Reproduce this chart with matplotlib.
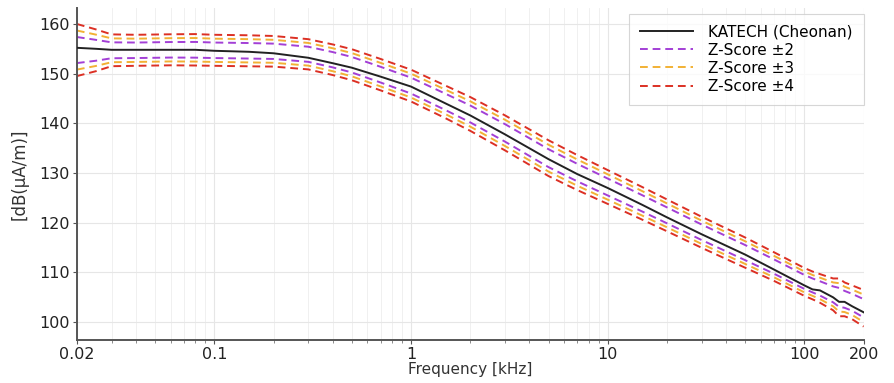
import numpy as np
import matplotlib
matplotlib.use("Agg")
import matplotlib.pyplot as plt
import matplotlib.ticker as ticker

# Frequency points [kHz]
freq = [0.02, 0.025, 0.03, 0.04, 0.06, 0.08, 0.1, 0.15, 0.2, 0.3, 0.4, 0.5, 0.7,
        1, 1.5, 2, 3, 5, 7, 10, 15, 20, 30, 50, 70, 100, 110, 120, 140, 150,
        160, 175, 200]

# KATECH (Cheonan) measurement [dB(uA/m)]
katech = [155.2, 155.0, 154.8, 154.8, 154.8, 154.8, 154.6, 154.4, 154.1, 153.2,
          152.1, 151.2, 149.4, 147.4, 144.0, 141.6, 137.8, 132.8, 129.8, 127.0,
          123.6, 121.1, 117.7, 113.6, 110.6, 107.4, 106.6, 106.4, 105.0, 104.1,
          104.1, 103.2, 102.0]

# mean and std of the reference population (Z-Score bands)
z_mean = [154.75, 154.7, 154.7, 154.7, 154.8, 154.8, 154.7, 154.6, 154.5, 153.9,
          152.8, 151.8, 149.8, 147.6, 144.3, 141.9, 138.1, 133.0, 130.1, 127.2,
          123.9, 121.5, 118.1, 114.0, 111.2, 108.1, 107.4, 106.8, 105.6, 105.0,
          104.6, 104.0, 102.8]
z_std = [1.31, 1.05, 0.80, 0.78, 0.78, 0.79, 0.78, 0.78, 0.77, 0.76, 0.77, 0.78,
         0.79, 0.80, 0.82, 0.85, 0.88, 0.90, 0.88, 0.85, 0.82, 0.80, 0.78, 0.76,
         0.72, 0.70, 0.70, 0.72, 0.80, 0.95, 0.85, 0.85, 0.92]

z_levels = [2, 3, 4]
z_colors = ['#a33fd6', '#f2b134', '#dc3024']

x_ticks = [0.02, 0.1, 1, 10, 100, 200]
x_ticklabels = ['0.02', '0.1', '1', '10', '100', '200']
y_ticks = [100, 110, 120, 130, 140, 150, 160]

f = np.array(freq)
m = np.array(z_mean)
s = np.array(z_std)

fig, ax = plt.subplots(figsize=(8.94, 3.83), dpi=100)
fig.subplots_adjust(left=0.086, right=0.966, bottom=0.112, top=0.979)

ax.plot(f, katech, color='#222222', lw=1.4, label='KATECH (Cheonan)', zorder=5)
for k, c in zip(z_levels, z_colors):
    ax.plot(f, m + k * s, color=c, lw=1.4, ls=(0, (4, 2.5)), label='Z-Score ±%d' % k)
    ax.plot(f, m - k * s, color=c, lw=1.4, ls=(0, (4, 2.5)))

ax.set_xscale('log')
ax.set_xlim(0.02, 200)
ax.set_ylim(96.4, 163.2)
ax.set_xticks(x_ticks)
ax.set_xticklabels(x_ticklabels)
ax.xaxis.set_minor_locator(ticker.LogLocator(base=10, subs=np.arange(2, 10)))
ax.xaxis.set_minor_formatter(ticker.NullFormatter())
ax.set_yticks(y_ticks)

# Сетка и оси
ax.grid(which='major', axis='both', color='#e6e6e6', lw=0.8)
ax.grid(which='minor', axis='x', color='#eeeeee', lw=0.6)
ax.set_axisbelow(True)
ax.spines['top'].set_visible(False)
ax.spines['right'].set_visible(False)
for side in ['left', 'bottom']:
    ax.spines[side].set_color('#555555')
    ax.spines[side].set_linewidth(1.4)
ax.tick_params(axis='both', which='major', labelsize=11.5, colors='#555555',
               labelcolor='#222222', length=3, pad=2)
ax.tick_params(axis='x', which='minor', length=2, colors='#777777')

ax.set_xlabel('Frequency [kHz]', fontsize=11, color='#333333', labelpad=0)
ax.set_ylabel('[dB(μA/m)]', fontsize=12, color='#333333', labelpad=8)

leg = ax.legend(loc='upper right', fontsize=11, frameon=True, fancybox=False,
                edgecolor='#cccccc', handlelength=3.5, handletextpad=1.0,
                borderpad=0.7, labelspacing=0.2, borderaxespad=0,
                bbox_to_anchor=(1.0, 0.982))
leg.get_frame().set_linewidth(0.8)

fig.savefig('out.png', dpi=100)
